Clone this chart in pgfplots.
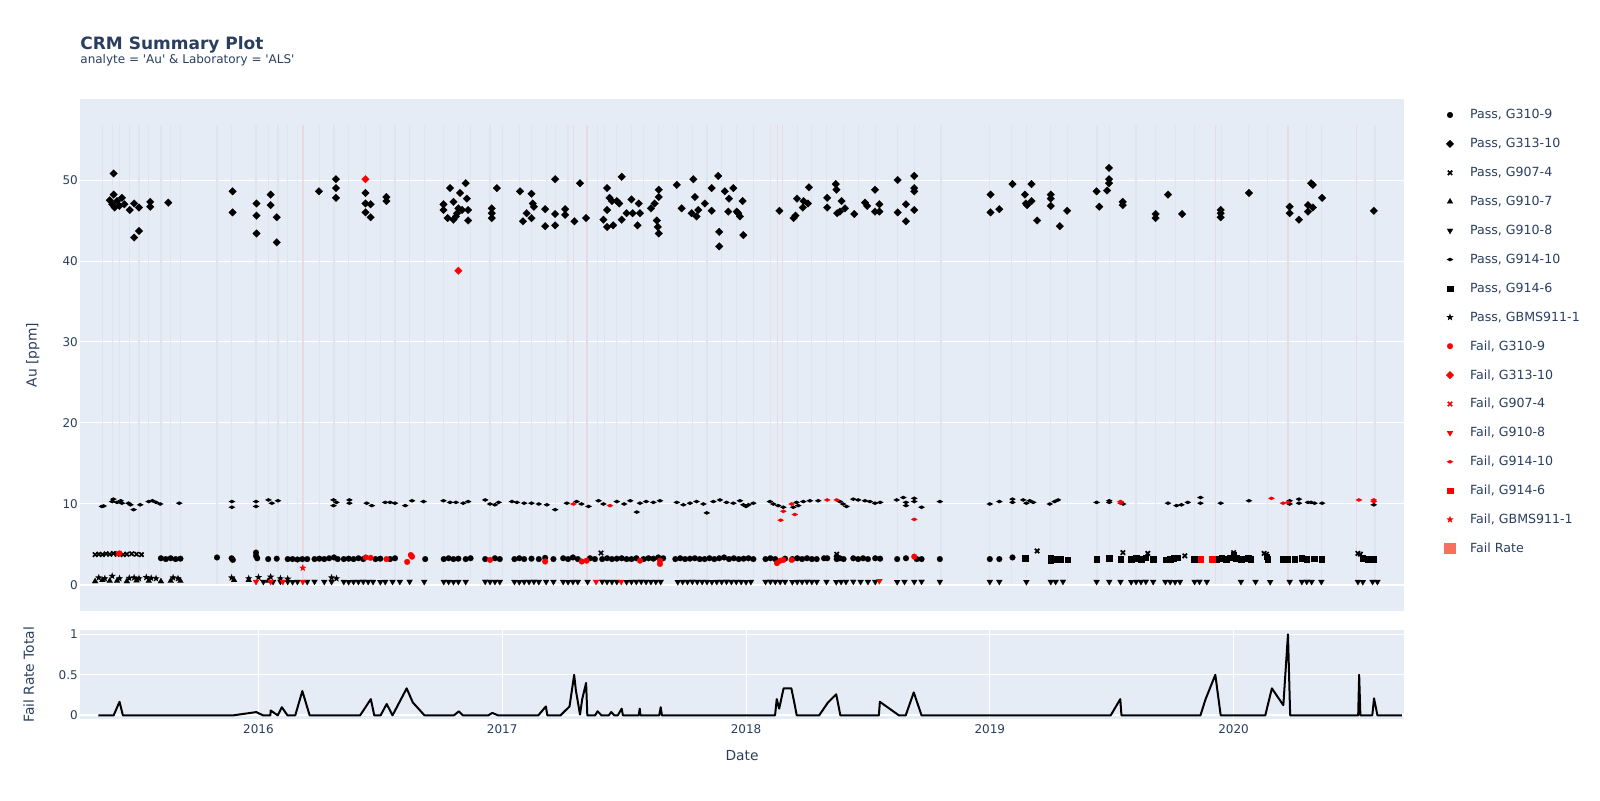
\documentclass[border=0pt]{standalone}
\usepackage{fontspec}
\setmainfont{DejaVu Sans}
\newfontfamily\plainfont{DejaVu Sans}
\usepackage{pgfplots}
\pgfplotsset{compat=1.18}
\definecolor{bgc}{HTML}{E5ECF6}
\definecolor{txt}{HTML}{2A3F5F}
\definecolor{vgray}{HTML}{DFE5EF}
\definecolor{vpink}{HTML}{E8DAE3}
\definecolor{swatch}{HTML}{F7705E}

\pgfdeclareplotmark{hdiamond}{%
  \pgfpathmoveto{\pgfqpoint{\pgfplotmarksize}{0pt}}%
  \pgfpathlineto{\pgfqpoint{0pt}{0.55\pgfplotmarksize}}%
  \pgfpathlineto{\pgfqpoint{-\pgfplotmarksize}{0pt}}%
  \pgfpathlineto{\pgfqpoint{0pt}{-0.55\pgfplotmarksize}}%
  \pgfpathclose\pgfusepathqfill}
\pgfdeclareplotmark{fstar}{%
  \pgfpathmoveto{\pgfpointpolar{90}{\pgfplotmarksize}}%
  \pgfpathlineto{\pgfpointpolar{126}{0.42\pgfplotmarksize}}%
  \pgfpathlineto{\pgfpointpolar{162}{\pgfplotmarksize}}%
  \pgfpathlineto{\pgfpointpolar{198}{0.42\pgfplotmarksize}}%
  \pgfpathlineto{\pgfpointpolar{234}{\pgfplotmarksize}}%
  \pgfpathlineto{\pgfpointpolar{270}{0.42\pgfplotmarksize}}%
  \pgfpathlineto{\pgfpointpolar{306}{\pgfplotmarksize}}%
  \pgfpathlineto{\pgfpointpolar{342}{0.42\pgfplotmarksize}}%
  \pgfpathlineto{\pgfpointpolar{18}{\pgfplotmarksize}}%
  \pgfpathlineto{\pgfpointpolar{54}{0.42\pgfplotmarksize}}%
  \pgfpathclose\pgfusepathqfill}

\pgfplotsset{
 pcirc/.style={only marks, mark=*, mark size=1.45pt, mark options={line width=0.1pt}},
 pdiam/.style={only marks, mark=square*, mark size=1.35pt, mark options={rotate=45,line width=0.1pt}},
 pcross/.style={only marks, mark=x, mark size=1.55pt, mark options={line width=0.85pt}},
 ptriu/.style={only marks, mark=triangle*, mark size=1.7pt, mark options={line width=0.1pt}},
 ptrid/.style={only marks, mark=triangle*, mark size=1.7pt, mark options={rotate=180,line width=0.1pt}},
 phd/.style={only marks, mark=hdiamond, mark size=1.7pt},
 psq/.style={only marks, mark=square*, mark size=1.35pt, mark options={line width=0.1pt}},
 pstar/.style={only marks, mark=fstar, mark size=1.9pt},
}

\begin{document}
\begin{tikzpicture}
\fill[white] (0,0) rectangle (800pt,400pt);
\useasboundingbox (0,0) rectangle (800pt,400pt);

\node[anchor=base west, inner sep=0pt, text=txt, font=\fontsize{8.5}{10}\selectfont\bfseries] at (40pt,375pt) {CRM Summary Plot};
\node[anchor=base west, inner sep=0pt, text=txt, font=\fontsize{6}{7}\selectfont\plainfont] at (40pt,368pt) {analyte = 'Au' \& Laboratory = 'ALS'};

%================ TOP AXIS =================
\begin{axis}[
 at={(40pt,94.75pt)}, anchor=south west, scale only axis,
 width=662pt, height=255.5pt,
 xmin=2015.268, xmax=2020.699, ymin=-3.15, ymax=59.94,
 axis background/.style={fill=bgc},
 axis line style={draw=none},
 major tick length=0pt,
 xtick=\empty,
 ytick={0,10,20,30,40,50},
 yticklabels={0,10,20,30,40,50},
 ymajorgrids, grid style={white, line width=0.5pt},
 /pgf/number format/assume math mode=true,
 yticklabel style={font=\fontsize{6}{7}\selectfont, text=txt, inner sep=0pt, xshift=-0.9pt},
 ylabel={Au [ppm]},
 ylabel style={at={(axis description cs:-0.0357,0.5)}, anchor=center, font=\fontsize{6.9}{8}\selectfont, text=txt},
 legend cell align=left,
 legend style={at={(1.02719,0.98141)}, anchor=north west, draw=none, fill=none,
   inner sep=0pt, outer sep=0pt, row sep=8.45pt, column sep=5pt,
   font=\fontsize{6.3}{7}\selectfont,
   nodes={inner sep=0pt, text height=5pt, text depth=1pt, text=txt}},
 legend image code/.code={\path[draw=none,fill=none] (0pt,-3pt) rectangle (10pt,3pt); \draw[#1] plot coordinates {(5pt,0pt)};},
]
% faint vertical batch lines
\addplot[forget plot, ycomb, vgray, line width=0.6pt, mark=none] coordinates {
(2015.36,56.8)(2015.40,56.8)(2015.43,56.8)(2015.47,56.8)(2015.51,56.8)(2015.55,56.8)(2015.60,56.8)(2015.64,56.8)(2015.68,56.8)
(2015.83,56.8)(2015.89,56.8)(2015.99,56.8)(2016.04,56.8)(2016.08,56.8)(2016.12,56.8)(2016.16,56.8)(2016.25,56.8)(2016.31,56.8)
(2016.37,56.8)(2016.44,56.8)(2016.50,56.8)(2016.56,56.8)(2016.62,56.8)(2016.68,56.8)(2016.76,56.8)(2016.82,56.8)(2016.87,56.8)
(2016.95,56.8)(2017.00,56.8)(2017.07,56.8)(2017.12,56.8)(2017.18,56.8)(2017.22,56.8)(2017.27,56.8)(2017.39,56.8)(2017.42,56.8)
(2017.47,56.8)(2017.53,56.8)(2017.58,56.8)(2017.64,56.8)(2017.72,56.8)(2017.78,56.8)(2017.84,56.8)(2017.90,56.8)(2017.96,56.8)
(2018.03,56.8)(2018.10,56.8)(2018.21,56.8)(2018.27,56.8)(2018.33,56.8)(2018.40,56.8)(2018.46,56.8)(2018.53,56.8)(2018.62,56.8)
(2018.69,56.8)(2018.80,56.8)(2019.00,56.8)(2019.09,56.8)(2019.15,56.8)(2019.25,56.8)(2019.32,56.8)(2019.44,56.8)(2019.49,56.8)
(2019.60,56.8)(2019.68,56.8)(2019.76,56.8)(2019.84,56.8)(2019.95,56.8)(2020.06,56.8)(2020.14,56.8)(2020.30,56.8)(2020.36,56.8)
(2020.58,56.8)};
\addplot[forget plot, ycomb, vpink, line width=0.7pt, mark=none] coordinates {
(2016.182,56.8)(2017.293,56.8)(2017.347,56.8)(2018.13,56.8)(2018.15,56.8)(2019.925,56.8)(2020.223,56.8)(2020.505,56.8)};
% zero line
\addplot[forget plot, white, line width=1pt, mark=none] coordinates {(2015.268,0)(2020.699,0)};

% Pass, G310-9
\addplot[black, pcirc] coordinates {
(2015.60,3.3)(2015.62,3.2)(2015.64,3.3)(2015.66,3.2)(2015.68,3.25)(2015.83,3.4)(2015.89,3.3)(2015.895,3.1)
(2015.99,3.6)(2015.99,4.0)(2015.995,3.3)(2016.04,3.2)(2016.075,3.25)(2016.12,3.2)(2016.14,3.2)(2016.16,3.15)(2016.18,3.2)(2016.20,3.2)
(2016.23,3.2)(2016.25,3.25)(2016.27,3.2)(2016.29,3.3)(2016.31,3.4)(2016.325,3.2)(2016.35,3.2)(2016.37,3.25)(2016.39,3.2)(2016.41,3.3)(2016.43,3.2)
(2016.48,3.2)(2016.50,3.25)(2016.54,3.2)(2016.56,3.3)(2016.684,3.2)
(2016.76,3.2)(2016.78,3.3)(2016.80,3.2)(2016.82,3.25)(2016.85,3.2)(2016.87,3.3)(2016.93,3.2)(2016.97,3.3)(2016.99,3.2)
(2017.05,3.2)(2017.07,3.3)(2017.09,3.2)(2017.12,3.25)(2017.15,3.2)(2017.176,3.35)(2017.21,3.2)
(2017.25,3.3)(2017.27,3.2)(2017.29,3.4)(2017.31,3.2)(2017.36,3.3)(2017.38,3.2)
(2017.41,3.2)(2017.43,3.3)(2017.45,3.2)(2017.47,3.25)(2017.49,3.3)(2017.51,3.2)(2017.53,3.2)(2017.55,3.3)(2017.58,3.2)(2017.60,3.3)(2017.62,3.25)(2017.64,3.4)(2017.66,3.3)
(2017.71,3.2)(2017.73,3.3)(2017.75,3.2)(2017.77,3.25)(2017.79,3.3)(2017.81,3.2)(2017.83,3.2)(2017.85,3.3)(2017.87,3.2)(2017.89,3.3)(2017.91,3.4)(2017.93,3.2)(2017.95,3.3)(2017.97,3.2)(2017.99,3.25)
(2018.01,3.3)(2018.03,3.2)(2018.08,3.2)(2018.10,3.3)(2018.12,3.2)(2018.16,3.25)
(2018.19,3.2)(2018.21,3.3)(2018.23,3.2)(2018.25,3.3)(2018.27,3.2)(2018.29,3.2)(2018.32,3.3)
(2018.333,3.3)(2018.372,3.5)(2018.372,3.2)(2018.385,3.3)(2018.40,3.2)
(2018.44,3.3)(2018.46,3.2)(2018.48,3.3)(2018.50,3.2)(2018.53,3.3)(2018.55,3.25)
(2018.62,3.2)(2018.656,3.3)(2018.70,3.2)(2018.72,3.2)(2018.795,3.2)(2019.0,3.2)(2019.039,3.2)(2019.093,3.4)};
\addlegendentry{Pass, G310-9}
% Pass, G313-10
\addplot[black, pdiam] coordinates {
(2015.406,50.8)(2015.406,48.2)(2015.39,47.5)(2015.40,47.0)(2015.41,46.6)(2015.42,47.4)(2015.43,46.8)(2015.44,47.8)(2015.45,47.0)
(2015.472,46.3)(2015.49,47.1)(2015.49,42.9)(2015.51,43.7)(2015.51,46.6)(2015.556,47.3)(2015.556,46.7)(2015.63,47.2)
(2015.894,48.6)(2015.894,46.0)(2015.992,47.1)(2015.992,45.6)(2015.992,43.4)(2016.05,48.2)(2016.05,46.9)(2016.075,45.4)(2016.075,42.3)
(2016.248,48.6)(2016.318,50.1)(2016.318,49.0)(2016.318,47.8)(2016.439,48.4)(2016.439,47.1)(2016.46,47.0)(2016.439,46.0)(2016.46,45.4)
(2016.525,47.9)(2016.525,47.4)
(2016.759,47.0)(2016.759,46.3)(2016.776,45.3)(2016.786,49.0)(2016.80,47.3)(2016.81,45.5)(2016.80,45.1)(2016.815,45.9)(2016.82,46.5)
(2016.835,46.3)(2016.85,49.6)(2016.855,47.7)(2016.86,46.3)(2016.86,45.0)(2016.827,48.4)(2016.957,46.5)(2016.957,45.9)(2016.957,45.3)(2016.978,49.0)
(2017.073,48.6)(2017.085,44.9)(2017.10,45.9)(2017.12,48.3)(2017.125,47.1)(2017.13,46.7)(2017.12,45.3)(2017.176,46.4)(2017.176,44.3)
(2017.217,50.1)(2017.217,45.8)(2017.217,44.4)(2017.258,46.4)(2017.258,45.7)(2017.296,44.9)(2017.319,49.6)(2017.344,45.3)
(2017.415,45.1)(2017.43,49.0)(2017.44,47.8)(2017.43,46.3)(2017.43,44.2)(2017.455,44.4)(2017.45,47.4)(2017.47,47.4)(2017.48,47.1)
(2017.49,50.4)(2017.49,45.1)(2017.51,45.9)(2017.53,47.6)(2017.535,45.9)(2017.56,47.1)(2017.555,44.4)(2017.565,45.9)(2017.61,46.5)
(2017.625,47.1)(2017.642,48.8)(2017.642,47.9)(2017.634,45.0)(2017.642,43.4)(2017.638,44.2)(2017.716,49.4)(2017.736,46.5)(2017.784,50.1)
(2017.79,47.9)(2017.797,45.5)(2017.777,45.9)(2017.804,46.3)(2017.831,47.1)(2017.859,49.0)(2017.859,46.2)(2017.886,50.5)(2017.89,43.6)
(2017.89,41.8)(2017.913,48.6)(2017.927,46.1)(2017.93,47.7)(2017.948,49.0)(2017.962,46.1)(2017.975,45.5)(2017.986,47.4)(2017.989,43.2)(2017.968,45.9)
(2018.137,46.2)(2018.195,45.3)(2018.203,45.6)(2018.209,47.7)(2018.233,46.6)(2018.236,47.4)(2018.254,47.1)(2018.258,49.1)
(2018.333,47.8)(2018.333,46.6)(2018.368,49.5)(2018.371,48.8)(2018.374,45.9)(2018.385,46.1)(2018.392,47.4)(2018.406,46.5)(2018.444,45.8)
(2018.488,47.2)(2018.497,46.8)(2018.529,48.8)(2018.529,46.1)(2018.547,47.0)(2018.547,46.1)(2018.622,50.0)(2018.622,46.0)(2018.656,47.0)
(2018.656,44.9)(2018.69,50.5)(2018.69,49.0)(2018.69,48.6)(2018.69,46.3)
(2019.003,48.2)(2019.003,46.0)(2019.039,46.4)(2019.093,49.5)(2019.144,48.2)(2019.148,47.1)(2019.153,46.9)(2019.171,49.5)(2019.171,47.4)
(2019.194,45.0)(2019.25,48.2)(2019.25,47.7)(2019.25,46.8)(2019.287,44.3)(2019.317,46.2)
(2019.438,48.6)(2019.449,46.7)(2019.481,48.7)(2019.489,51.5)(2019.489,50.1)(2019.489,49.6)(2019.545,47.3)(2019.545,46.9)
(2019.68,45.8)(2019.68,45.3)(2019.731,48.2)(2019.789,45.8)(2019.947,46.3)(2019.947,45.9)(2019.947,45.4)(2020.063,48.4)
(2020.23,46.7)(2020.23,45.9)(2020.268,45.1)(2020.305,46.9)(2020.305,46.1)(2020.325,46.6)(2020.318,49.6)(2020.325,49.4)(2020.363,47.8)(2020.575,46.2)};
\addlegendentry{Pass, G313-10}
% Pass, G907-4
\addplot[black, pcross] coordinates {
(2015.33,3.75)(2015.345,3.8)(2015.36,3.75)(2015.375,3.85)(2015.39,3.8)(2015.405,3.9)(2015.42,3.8)(2015.445,3.75)(2015.46,3.8)
(2015.48,3.85)(2015.50,3.8)(2015.52,3.75)(2017.405,3.95)(2018.372,3.8)(2019.194,4.2)(2019.546,4.0)(2019.648,3.9)(2019.80,3.6)
(2020.0,4.0)(2020.125,3.9)(2020.135,3.8)(2020.51,3.9)(2020.52,3.8)};
\addlegendentry{Pass, G907-4}
% Pass, G910-7
\addplot[black, ptriu] coordinates {
(2015.33,0.45)(2015.36,0.6)(2015.39,0.5)(2015.42,0.5)(2015.46,0.45)(2015.50,0.55)(2015.55,0.5)(2015.60,0.45)(2015.64,0.5)(2015.68,0.5)
(2015.90,0.6)(2015.96,0.6)(2016.04,0.5)};
\addlegendentry{Pass, G910-7}
% Pass, G910-8
\addplot[black, ptrid] coordinates {
(2016.02,0.4)(2016.06,0.4)(2016.09,0.42)(2016.12,0.4)(2016.14,0.38)(2016.16,0.4)(2016.20,0.4)(2016.23,0.42)(2016.27,0.4)(2016.30,0.4)
(2016.35,0.4)(2016.37,0.38)(2016.39,0.4)(2016.41,0.4)(2016.43,0.42)(2016.45,0.4)(2016.47,0.4)(2016.50,0.38)(2016.52,0.4)(2016.55,0.4)
(2016.58,0.4)(2016.62,0.42)(2016.68,0.4)(2016.76,0.4)(2016.78,0.4)(2016.80,0.38)(2016.82,0.4)(2016.85,0.4)(2016.93,0.42)(2016.95,0.4)
(2016.97,0.4)(2016.99,0.4)(2017.05,0.4)(2017.07,0.38)(2017.09,0.4)(2017.11,0.4)(2017.13,0.42)(2017.15,0.4)(2017.18,0.4)(2017.21,0.4)
(2017.25,0.4)(2017.27,0.38)(2017.29,0.4)(2017.31,0.4)(2017.35,0.4)(2017.41,0.42)(2017.43,0.4)(2017.45,0.4)(2017.47,0.4)(2017.51,0.38)
(2017.53,0.4)(2017.55,0.4)(2017.57,0.42)(2017.59,0.4)(2017.61,0.4)(2017.63,0.4)(2017.65,0.4)(2017.72,0.38)(2017.74,0.4)(2017.76,0.4)
(2017.78,0.42)(2017.80,0.4)(2017.82,0.4)(2017.84,0.4)(2017.86,0.38)(2017.88,0.4)(2017.90,0.4)(2017.92,0.42)(2017.94,0.4)(2017.96,0.4)
(2017.98,0.4)(2018.00,0.38)(2018.02,0.4)(2018.08,0.4)(2018.10,0.42)(2018.12,0.4)(2018.14,0.4)(2018.16,0.4)(2018.19,0.38)(2018.21,0.4)
(2018.23,0.4)(2018.25,0.42)(2018.27,0.4)(2018.29,0.4)(2018.33,0.4)(2018.37,0.38)(2018.39,0.4)(2018.41,0.4)(2018.44,0.42)(2018.47,0.4)
(2018.50,0.4)(2018.53,0.4)(2018.62,0.38)(2018.65,0.4)(2018.69,0.4)(2018.72,0.42)(2018.795,0.4)(2019.0,0.4)(2019.039,0.4)(2019.15,0.38)
(2019.25,0.4)(2019.27,0.4)(2019.30,0.42)(2019.438,0.4)(2019.49,0.4)(2019.536,0.4)(2019.58,0.38)(2019.60,0.4)(2019.62,0.4)(2019.64,0.42)
(2019.67,0.4)(2019.72,0.4)(2019.74,0.4)(2019.76,0.38)(2019.78,0.4)(2019.84,0.4)(2019.86,0.42)(2019.89,0.4)(2020.03,0.4)(2020.09,0.4)
(2020.15,0.38)(2020.23,0.4)(2020.28,0.4)(2020.30,0.42)(2020.32,0.4)(2020.36,0.4)(2020.51,0.4)(2020.53,0.38)(2020.57,0.4)(2020.59,0.4)};
\addlegendentry{Pass, G910-8}
% Pass, G914-10
\addplot[black, phd] coordinates {
(2015.358,9.7)(2015.365,9.75)(2015.40,10.3)(2015.405,10.6)(2015.42,10.2)(2015.435,10.4)(2015.44,10.1)(2015.467,10.1)(2015.475,9.9)
(2015.488,9.3)(2015.515,9.9)(2015.55,10.3)(2015.565,10.4)(2015.58,10.2)(2015.597,10.0)(2015.675,10.1)(2015.891,10.3)(2015.891,9.6)
(2015.99,10.3)(2015.99,9.7)(2016.041,10.5)(2016.055,10.1)(2016.08,10.4)(2016.308,10.5)(2016.308,9.8)(2016.32,10.2)(2016.373,10.5)
(2016.373,10.1)(2016.444,10.1)(2016.465,9.8)(2016.52,10.2)(2016.54,10.2)(2016.56,10.1)(2016.602,9.8)(2016.63,10.4)
(2016.677,10.3)(2016.759,10.4)(2016.786,10.2)(2016.81,10.2)(2016.84,10.1)(2016.86,10.3)(2016.93,10.5)(2016.95,10.0)(2016.97,9.9)
(2016.985,10.2)(2017.04,10.3)(2017.06,10.2)(2017.09,10.1)(2017.12,10.1)(2017.15,10.0)(2017.183,9.9)(2017.217,9.3)(2017.265,10.1)
(2017.305,10.3)(2017.325,10.0)(2017.354,9.7)(2017.395,10.4)(2017.415,10.0)(2017.47,10.3)(2017.50,10.0)(2017.525,10.4)(2017.552,9.0)
(2017.565,10.1)(2017.59,10.3)(2017.62,10.2)(2017.647,10.4)(2017.716,10.2)(2017.743,9.9)(2017.77,10.1)(2017.797,10.3)(2017.825,10.0)
(2017.839,8.9)(2017.866,10.3)(2017.893,10.5)(2017.92,10.2)(2017.948,10.1)(2017.975,10.4)(2017.989,9.9)(2018.0,9.7)(2018.01,9.9)
(2018.03,10.1)(2018.098,10.3)(2018.112,10.0)(2018.132,9.8)(2018.153,9.6)(2018.194,9.6)(2018.207,10.2)(2018.214,9.8)(2018.235,10.3)
(2018.262,10.4)(2018.296,10.4)(2018.385,10.3)(2018.398,10.0)(2018.412,9.7)(2018.44,10.6)(2018.46,10.5)(2018.488,10.4)(2018.508,10.3)
(2018.529,10.1)(2018.55,10.2)(2018.618,10.5)(2018.645,10.8)(2018.656,9.8)(2018.656,10.2)(2018.69,10.7)(2018.69,10.3)(2018.72,9.6)
(2018.795,10.3)(2019.0,10.0)(2019.039,10.3)(2019.093,10.6)(2019.093,10.2)(2019.137,10.5)(2019.15,10.1)(2019.164,10.4)(2019.178,10.2)
(2019.246,10.0)(2019.266,10.3)(2019.28,10.5)(2019.438,10.2)(2019.49,10.4)(2019.49,10.2)(2019.547,10.0)(2019.731,10.1)(2019.766,9.8)
(2019.786,9.9)(2019.812,10.2)(2019.864,10.8)(2019.864,10.1)(2019.947,10.1)(2020.063,10.4)(2020.23,10.4)(2020.23,10.0)(2020.268,10.6)
(2020.268,10.1)(2020.305,10.2)(2020.318,10.2)(2020.332,10.1)(2020.363,10.1)(2020.575,9.9)};
\addlegendentry{Pass, G914-10}
% Pass, G914-6
\addplot[black, psq] coordinates {
(2019.144,3.3)(2019.25,3.4)(2019.25,3.0)(2019.27,3.2)(2019.29,3.2)(2019.32,3.1)(2019.438,3.2)(2019.49,3.3)(2019.536,3.2)(2019.58,3.2)
(2019.60,3.3)(2019.62,3.2)(2019.64,3.4)(2019.67,3.2)(2019.72,3.1)(2019.74,3.2)(2019.755,3.3)(2019.77,3.4)(2019.838,3.2)(2019.86,3.25)
(2019.93,3.2)(2019.95,3.3)(2019.97,3.2)(2019.985,3.4)(2020.0,3.7)(2020.01,3.3)(2020.03,3.2)(2020.06,3.3)(2020.07,3.2)(2020.135,3.5)
(2020.14,3.2)(2020.20,3.2)(2020.22,3.2)(2020.25,3.2)(2020.28,3.3)(2020.30,3.2)(2020.33,3.25)(2020.36,3.2)(2020.53,3.3)(2020.55,3.2)(2020.575,3.2)};
\addlegendentry{Pass, G914-6}
% Pass, GBMS911-1
\addplot[black, pstar] coordinates {
(2015.345,0.9)(2015.37,0.8)(2015.40,1.1)(2015.43,0.8)(2015.47,0.85)(2015.49,0.9)(2015.51,0.8)(2015.54,0.95)(2015.56,0.85)(2015.58,0.8)
(2015.65,0.9)(2015.67,0.8)(2015.89,0.9)(2015.96,0.8)(2016.0,0.95)(2016.05,1.0)(2016.09,0.8)(2016.12,0.75)(2016.30,0.9)(2016.32,0.8)};
\addlegendentry{Pass, GBMS911-1}
% Fail, G310-9
\addplot[red, pcirc] coordinates {
(2015.43,3.9)(2016.44,3.4)(2016.46,3.35)(2016.525,3.2)(2016.61,2.85)(2016.625,3.7)(2016.63,3.5)(2016.95,3.1)(2017.176,2.9)(2017.326,2.9)
(2017.346,3.0)(2017.565,3.0)(2017.647,2.6)(2017.647,3.0)(2018.127,2.7)(2018.14,3.0)(2018.153,3.1)(2018.187,3.1)(2018.69,3.5)};
\addlegendentry{Fail, G310-9}
% Fail, G313-10
\addplot[red, pdiam] coordinates {(2016.439,50.1)(2016.82,38.8)};
\addlegendentry{Fail, G313-10}
% Fail, G907-4
\addplot[red, pcross] coordinates {(2015.425,3.85)};
\addlegendentry{Fail, G907-4}
% Fail, G910-8
\addplot[red, ptrid] coordinates {
(2015.99,0.4)(2016.05,0.4)(2016.10,0.4)(2016.182,0.4)(2017.385,0.4)(2017.488,0.4)(2018.547,0.5)};
\addlegendentry{Fail, G910-8}
% Fail, G914-10
\addplot[red, phd] coordinates {
(2017.292,10.0)(2017.442,9.8)(2018.142,8.0)(2018.153,9.1)(2018.187,10.0)(2018.2,8.7)(2018.333,10.5)(2018.372,10.5)(2018.69,8.1)
(2019.536,10.3)(2019.536,10.1)(2020.155,10.7)(2020.203,10.1)(2020.223,10.2)(2020.514,10.5)(2020.575,10.5)(2020.575,10.3)};
\addlegendentry{Fail, G914-10}
% Fail, G914-6
\addplot[red, psq] coordinates {(2019.864,3.2)(2019.912,3.2)};
\addlegendentry{Fail, G914-6}
% Fail, GBMS911-1
\addplot[red, pstar] coordinates {(2016.182,2.1)};
\addlegendentry{Fail, GBMS911-1}
\addlegendimage{legend image code/.code={\fill[swatch, draw=none] (2.1pt,-2.9pt) rectangle (7.9pt,2.9pt); \path[draw=none,fill=none] (0pt,-3pt) rectangle (10pt,3pt);}}
\addlegendentry{Fail Rate}
\end{axis}

%================ BOTTOM AXIS =================
\begin{axis}[
 at={(40pt,40.35pt)}, anchor=south west, scale only axis,
 width=662pt, height=44.65pt,
 xmin=2015.268, xmax=2020.699, ymin=-0.049, ymax=1.053,
 axis background/.style={fill=bgc},
 axis line style={draw=none},
 major tick length=0pt,
 xtick={2016,2017,2018,2019,2020}, xticklabels={2016,2017,2018,2019,2020},
 ytick={0,0.5,1}, yticklabels={0,0.5,1},
 xmajorgrids, ymajorgrids, grid style={white, line width=0.5pt},
 /pgf/number format/assume math mode=true,
 yticklabel style={font=\fontsize{6}{7}\selectfont, text=txt, inner sep=0pt, xshift=-0.9pt},
 xticklabel style={font=\fontsize{6}{7}\selectfont, text=txt, inner sep=0pt, anchor=north, yshift=-2.35pt},
 xlabel={Date},
 xlabel style={at={(axis description cs:0.5,-0.411)}, anchor=center, font=\fontsize{6.9}{8}\selectfont, text=txt},
 ylabel={Fail Rate Total},
 ylabel style={at={(axis description cs:-0.0387,0.5)}, anchor=center, font=\fontsize{6.9}{8}\selectfont, text=txt},
]
\addplot[white, line width=1pt, mark=none] coordinates {(2015.268,0)(2020.699,0)};
\addplot[black, line width=1pt, mark=none, line join=round] coordinates {
(2015.343,0)(2015.406,0)(2015.430,0.167)(2015.444,0)(2015.897,0)(2015.991,0.04)(2016.019,0)(2016.049,0)(2016.05,0.06)(2016.079,0)
(2016.096,0.1)(2016.119,0)(2016.151,0)(2016.180,0.3)(2016.21,0)(2016.417,0)(2016.461,0.2)(2016.475,0)(2016.501,0)(2016.526,0.14)
(2016.550,0)(2016.608,0.333)(2016.633,0.16)(2016.681,0)(2016.802,0)(2016.822,0.05)(2016.838,0)(2016.943,0)(2016.959,0.03)(2016.983,0)
(2017.148,0)(2017.179,0.11)(2017.185,0)(2017.239,0)(2017.276,0.11)(2017.295,0.5)(2017.302,0.31)(2017.319,0.01)(2017.328,0.2)(2017.344,0.4)
(2017.349,0)(2017.381,0)(2017.391,0.05)(2017.407,0)(2017.437,0)(2017.447,0.04)(2017.46,0)(2017.474,0)(2017.49,0.083)(2017.495,0)
(2017.56,0)(2017.564,0.083)(2017.567,0)(2017.644,0)(2017.65,0.1)(2017.655,0)(2018.119,0)(2018.126,0.2)(2018.136,0.083)(2018.154,0.333)
(2018.186,0.333)(2018.2,0.125)(2018.208,0)(2018.3,0)(2018.335,0.154)(2018.37,0.26)(2018.387,0)(2018.545,0)(2018.549,0.167)(2018.627,0)
(2018.655,0)(2018.688,0.283)(2018.72,0)(2019.496,0)(2019.535,0.2)(2019.54,0)(2019.864,0)(2019.885,0.2)(2019.925,0.5)(2019.947,0)
(2020.13,0)(2020.157,0.333)(2020.204,0.125)(2020.223,1.0)(2020.232,0)(2020.511,0)(2020.515,0.5)(2020.52,0)(2020.569,0)(2020.576,0.21)
(2020.59,0)(2020.69,0)};
\end{axis}
\end{tikzpicture}
\end{document}
